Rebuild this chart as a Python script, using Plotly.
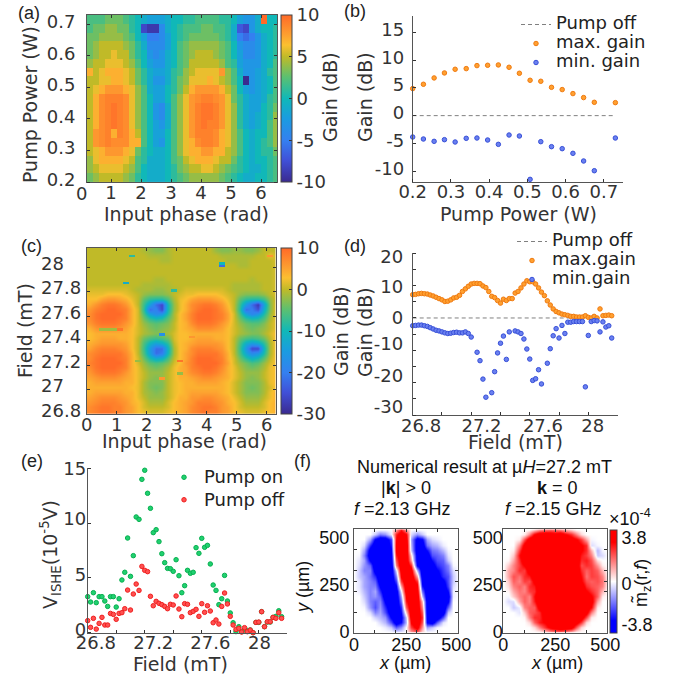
import numpy as np
import plotly.graph_objects as go

W, H = 683, 684
TXT = "#333333"
SANS = "DejaVu Sans"
ARIAL = "Liberation Sans"
FS = 18
FL = 19

# ---------- panel (a): gain vs input phase / pump power (top row = highest power)
a_phase_start, a_phase_step = 0.3, 0.2
a_power_start, a_power_step = 0.214, 0.0279
a_gain = [
 [2,2,2,3,3,3,2,1,0,-1,-2,-2,-2,-1,0,0,1,1,2,2,2,2,1,1,0,-2,-3,-3,-1,10,0,0],
 [2,3,3,4,4,3,3,1,0,-8,-9,-9,-4,-1,0,1,2,2,2,3,3,2,2,1,-1,-7,-8,-3,-1,0,0,1],
 [3,3,4,4,4,4,3,2,0,-2,-5,-5,-4,-2,0,1,2,3,3,3,3,3,2,1,-1,-5,-6,-5,-3,-1,0,1],
 [3,4,5,5,5,5,4,3,1,-1,-4,-4,-4,-2,0,2,3,4,4,4,4,4,3,2,0,-3,-4,-4,-3,-1,0,1],
 [3,4,5,5,6,5,5,3,1,0,-3,-4,-3,-1,0,2,3,4,5,5,5,4,3,2,0,-2,-4,-4,-3,-1,0,1],
 [4,5,5,6,6,6,5,4,2,0,-2,-3,-3,-1,0,2,3,5,5,5,5,5,4,2,1,-2,-3,-3,-3,-1,0,2],
 [7,5,6,7,7,7,6,5,3,1,-1,-2,-2,-1,1,2,4,5,6,6,6,6,8,4,2,-1,-3,-3,-2,-1,1,2],
 [5,5,6,6,7,7,6,5,3,1,-1,-3,-3,-1,1,3,4,6,6,6,7,6,5,4,2,0,-10,-3,-2,-1,0,2],
 [5,6,7,8,8,8,7,6,4,2,-1,-2,-2,0,1,3,5,7,8,8,8,8,7,5,3,0,-2,-3,-2,-1,0,2],
 [5,7,8.5,9,9,9,8.5,6,4,2,0,-2,-2,0,2,4,6,8,8.5,9,9,8.5,8,6,3,1,-1,-2,-2,-1,1,2],
 [5,7,8.5,9,9.5,9,8.5,6,4,2,0,-3,-4,-1,2,4,6,8,9,9.5,9.5,9,8,6,4,1,-1,-2,-2,0,1,3],
 [5,7,8.5,9,9.5,9,8.5,6,4,2,0,-3,-4,-1,2,4,6,8,9,9.5,9.5,9,8,6,4,1,-1,-2,-1,0,1,4],
 [5,7,8.5,9,9.5,9,8.5,6,4,2,0,-2,-3,-1,2,4,6,8,9,9.5,9,9,8,6,4,1,-1,-2,-1,0,2,4],
 [5,8,8.5,9,7,9,8.5,7,5,2,0,-2,-2,0,2,4,6,8,9,9,9,8.5,7,6,4,2,0,-1,0,0,2,4],
 [5,8,8.5,9,8.5,8.5,8.5,7,7,2,0,-2,-3,0,2,4,6,7,8.5,9,9,8.5,7,6,4,2,0,-1,0,1,2,4],
 [5,6,7,8,8,8,7,6,3,1,0,-1,-1,0,2,4,6,7,7,8,8,7,7,5,4,2,0,-1,0,1,1,3],
 [4,6,7,7,7,7,6,5,2,1,-1,-1,-1,0,2,3,5,6,7,7,7,6,5,5,3,1,0,-1,0,0,1,2],
 [4,5,6,6,6,6,5,4,2,0,-1,-1,-1,0,1,3,4,5,5,6,6,5,4,3,2,1,0,-1,-1,0,1,2],
 [3,4,5,5,5,5,4,3,1,0,-1,-1,-1,0,1,2,3,4,4,4,4,4,3,2,1,0,-1,-1,0,0,1,2],
]

# ---------- panel (b)
b_power = [0.2,0.228,0.256,0.283,0.311,0.34,0.368,0.396,0.424,0.452,0.479,0.507,0.535,0.563,0.591,0.619,0.647,0.675,0.73]
b_max = [4.87,5.65,6.79,7.69,8.35,8.47,9.01,9.07,9.13,8.71,7.63,6.37,6.19,5.1,4.69,3.97,3.25,2.4,2.34]
b_min = [-3.85,-4.21,-4.63,-4.33,-4.75,-4.09,-4.03,-4.39,-5.17,-3.49,-3.67,-11.48,-4.69,-5.59,-5.95,-6.79,-8.17,-9.92,-4.03]
b_off_x = [0.2,0.73]
off_y = [0,0]

# ---------- panel (c): gain vs input phase / field (top row = highest field)
c_gain = [
 [0,0,0,0,0,0,0,0,0,-1,-2,-3,-3,-1,0,0,0,0,0,0,0,-2,-3,-3,-2,-2,-3,-3,-2,0,0,0],
 [0,0,0,0,0,0,0,0,0,0,-1,-1,-1,-1,0,0,0,0,0,0,0,0,-1,-1,-1,-1,-1,-1,0,0,2,1],
 [0,0,0,0,0,0,0,0,0,0,0,0,-1,-1,0,0,0,0,0,0,0,0,0,-1,-1,-1,-1,0,0,0,0,1],
 [0,0,0,0,0,0,0,0,0,0,0,0,0,0,0,0,0,0,0,0,0,0,0,0,0,-1,-1,0,0,0,0,1],
 [0,0,0,0,0,0,0,0,0,0,0,0,0,0,0,0,0,0,0,0,0,0,0,0,0,0,0,0,0,0,0,1],
 [0,0,0,0,0,0,0,0,0,0,0,0,0,0,0,0,0,0,0,0,0,0,0,0,0,0,0,0,0,0,0,1],
 [0,0,0,0,0,0,0,0,0,0,0,-1,-1,0,0,0,0,0,0,0,0,0,0,0,0,0,0,-1,0,0,0,1],
 [0,0,0,0,0,0,0,0,0,-1,-1,-1,-1,-1,0,0,0,0,0,0,0,0,0,0,-1,-1,-1,-1,-1,0,0,1],
 [1,1,1,1,1,1,1,0,-1,-1,-1,-2,-2,-1,-1,0,1,1,1,1,1,1,1,0,-1,-1,-1,-1,-1,0,0,1],
 [2,2,2,3,3,3,2,1,0,-2,-3,-3,-3,-2,0,1,2,2,3,3,3,3,2,1,0,-2,-3,-3,-3,-2,0,1],
 [3,3,5,6,6,5,4,2,0,-5,-8,-9,-9,-6,-1,2,3,5,6,6,6,5,4,2,0,-5,-8,-9,-9,-7,-2,1],
 [4,6,8,9,9,8,6,3,0,-7,-14,-22,-26,-10,-2,2,4,7,8,9,9,8,6,3,0,-7,-15,-22,-28,-14,-3,2],
 [6,8,9,10,10,9,8,4,1,-8,-22,-19,-26,-10,-2,2,4,7,9,10,10,9,7,4,0,-8,-22,-20,-25,-12,-3,2],
 [7,9,10,10,10,10,8,4,1,-6,-14,-18,-16,-8,-1,3,5,8,10,10,10,9,8,5,1,-6,-14,-19,-16,-9,-2,2],
 [7,9,10,10,10,9,8,4,1,-4,-8,-10,-9,-5,-1,3,5,8,10,10,10,9,8,5,1,-4,-8,-10,-9,-6,-1,2],
 [6,8,9,9,9,8,6,4,1,-2,-4,-5,-4,-3,0,3,4,7,9,9,9,8,6,4,1,-2,-4,-5,-5,-3,0,2],
 [4,6,7,7,7,6,5,3,1,-1,-3,-4,-3,-2,0,3,4,5,7,7,7,6,5,3,1,-1,-3,-4,-3,-2,0,2],
 [3,4,4,4,4,4,4,3,1,-1,-2,-3,-2,-1,1,3,3,4,4,4,4,4,4,3,1,-1,-2,-3,-3,-1,1,3],
 [3,4,5,5,5,4,4,3,0,-4,-6,-7,-6,-4,1,3,3,4,5,5,5,4,4,3,0,-4,-6,-7,-6,-4,0,3],
 [4,5,6,6,6,6,5,3,0,-6,-11,-14,-12,-8,0,3,4,5,6,6,6,6,5,3,0,-6,-12,-15,-13,-8,-1,3],
 [5,7,8,8,8,7,6,3,0,-7,-15,-22,-22,-11,-1,3,4,7,8,8,8,7,6,3,0,-7,-16,-26,-26,-11,-1,3],
 [7,8,9,9,9,9,7,4,0,-6,-14,-22,-20,-10,-1,3,5,7,9,9,9,9,7,4,0,-6,-13,-18,-16,-9,-1,3],
 [7,9,10,10,10,9,8,4,1,-4,-9,-12,-11,-6,0,3,5,8,10,10,10,9,8,4,1,-4,-8,-11,-9,-5,0,3],
 [8,9,10,10,10,10,8,4,1,-2,-5,-6,-5,-3,1,3,6,8,10,10,10,10,8,5,1,-2,-4,-6,-5,-2,1,3],
 [7,9,10,10,10,9,8,4,2,-1,-3,-4,-3,-1,2,4,5,8,9,10,10,9,7,4,2,-1,-3,-4,-3,-1,2,3],
 [6,8,9,9,9,8,6,4,2,0,-2,-2,-2,0,2,4,5,7,8,9,9,8,6,4,2,0,-2,-2,-2,0,2,3],
 [5,6,7,7,7,6,5,4,2,0,-2,-3,-2,0,2,4,4,5,6,7,7,6,5,4,2,0,-2,-3,-2,0,2,3],
 [4,5,5,5,5,5,4,4,2,-1,-3,-3,-3,0,2,3,4,4,5,5,5,5,4,3,1,-1,-3,-3,-3,-1,2,3],
 [4,4,4,4,4,4,4,3,2,-1,-3,-4,-3,0,2,3,4,4,4,4,4,4,4,3,1,-1,-3,-4,-3,-1,1,3],
 [4,5,5,5,5,5,4,4,2,-1,-2,-3,-2,0,2,3,4,5,5,5,5,5,4,3,1,-1,-3,-3,-3,-1,2,4],
 [5,6,7,7,7,6,5,4,2,0,-2,-2,-2,0,2,4,4,6,6,7,7,6,5,4,2,0,-2,-2,-2,0,2,4],
 [6,7,8,8,8,7,6,4,3,1,-1,-1,-1,1,3,4,5,6,8,8,8,7,6,4,3,1,-1,-1,-1,1,3,4],
 [7,8,9,9,8,8,6,5,3,1,0,0,0,1,3,4,5,7,8,9,9,8,6,5,3,1,0,0,0,1,3,4],
 [7,8,9,9,8,8,6,5,3,2,1,1,1,2,3,4,5,7,8,9,8,8,6,5,3,2,1,1,1,2,3,4],
]
# isolated single-sweep outliers: phase (rad), field (mT), gain (dB)
c_out_phase = [1.45,1.3,2.85,4.45,4.45,0.5,0.7,0.9,1.1,2.5,3.4,1.7,3.0,3.0,2.5,6.0]
c_out_field = [28.09,27.85,27.81,28.02,28.0,27.49,27.49,27.49,27.49,27.45,27.43,27.23,27.23,27.13,27.09,28.09]
c_out_gain  = [-8,-12,-8,-10,-22,-1.5,-1.5,-1.5,9,-17,6,-2,9,-2,6,6]

# ---------- panel (d)
field = [26.80,26.82,26.84,26.86,26.88,26.90,26.92,26.94,26.96,26.98,27.00,27.02,27.04,27.06,27.08,27.10,27.12,
         27.14,27.16,27.18,27.20,27.22,27.24,27.26,27.28,27.30,27.32,27.34,27.36,27.38,27.40,27.42,27.44,27.46,
         27.48,27.50,27.52,27.54,27.56,27.58,27.60,27.62,27.64,27.66,27.68,27.70,27.72,27.74,27.76,27.78,27.80,
         27.82,27.84,27.86,27.88,27.90,27.92,27.94,27.96,27.98,28.00,28.02,28.04,28.06,28.08,28.10,28.12,28.14,28.16]
d_max = [7.2,7.3,7.5,7.6,7.5,7.4,7.1,6.8,6.4,6.0,5.6,5.1,5.2,5.6,6.2,6.4,7.0,8.2,9.0,9.8,10.5,10.7,10.7,10.6,9.9,9.4,
         8.2,6.7,6.3,5.4,4.6,5.8,5.4,6.0,6.0,7.7,8.2,9.3,10.5,11.5,11.2,11.2,10.5,9.3,8.0,6.9,5.3,4.0,2.8,2.0,1.6,1.2,
         1.0,0.8,0.5,0.5,0.3,0.3,0.3,0.7,0.2,0,0.5,0,2.8,0.7,0.8,0.9,0.7]
d_min = [-2.4,-2.3,-2.2,-2.2,-2.4,-2.6,-3.0,-3.4,-3.8,-4.0,-4.3,-4.6,-4.8,-4.7,-4.5,-4.4,-4.6,-4.6,-4.3,-4.8,-5.9,None,
         -10.6,-13.2,-18.9,-24.5,None,-23.1,-16.6,-10.8,-7.8,-5.6,-12.8,-4.3,None,-4.0,-4.3,-4.8,-6.5,-9.6,-12.7,-19.3,
         -18.8,-16.0,-20.4,None,-14.0,-9.5,-5.5,-3.3,-6.2,-2.3,-4.8,-1.3,-1.3,-1.1,-1.1,-1.1,-1.1,-21.3,-5.4,-1.1,-0.8,
         -0.9,-4.3,-1.2,-2.8,-2.4,-6.2]
d_off_x = [26.8,28.08]

# ---------- panel (e)
e_on = [3.29,2.8,3.65,2.74,3.29,3.29,2.89,2.4,3.29,3.29,2.34,3.1,4.81,5.51,8.64,5.14,7.03,10.56,10.34,13.99,14.82,12.72,
        11.35,9.13,9.4,8.31,7.21,6.39,5.87,5.84,5.6,6.66,5.2,3.65,4.29,5.69,5.42,5.51,7.76,7.24,8.61,7.79,7.97,6.27,4.35,
        3.86,2.56,3.1,5.23,2.89,1.8,0.91,0.1,0.55,0.1,0.25,0.2,0.25,0,0.94,0.94,1.92,0.55,0.97,0.97,1.4,1.49,2.0,1.46]
e_off = [1.1,0.49,1.31,0.33,0.85,1.4,0.7,0.7,1.76,1.67,1.22,1.76,1.83,2.19,3.89,2.07,3.53,4.44,3.86,6.05,5.69,5.57,3.32,
         2.46,2.86,2.68,2.56,2.4,2.19,2.59,2.53,3.35,2.16,1.46,2.65,2.59,1.83,1.95,2.13,1.49,2.65,1.86,2.46,1.98,0.91,1.16,
         0.79,2.4,3.62,2.62,1.49,0.7,0.3,0.4,0.06,0.46,0.09,0.24,0,0.94,0.97,1.92,0.55,1.0,1.0,1.4,1.31,1.83,1.31]

# ---------- panel (f): m_z in units of 1e-5 (top row = y 500)
f_pos = [0,25,50,75,100,125,150,175,200,225,250,275,300,325,350,375,400,425,450,475,500]
f_left = [
 [0,0,0,0,0,0,0,0,10,25,10,0,0,0,0,0,0,0,0,0,0],
 [0,0,0,0,-6,-15,-12,-2,25,38,30,-4,-12,-6,0,0,0,0,0,0,0],
 [0,0,0,-10,-30,-38,-38,-22,28,38,36,-10,-34,-30,-10,-4,-2,0,0,0,0],
 [0,0,-4,-24,-38,-38,-38,-26,30,38,38,-8,-36,-36,-16,-10,-8,-2,0,0,0],
 [0,0,-10,-34,-38,-38,-38,-30,30,38,38,-6,-36,-38,-28,-16,-14,-8,-1,0,0],
 [0,-1,-14,-36,-38,-38,-38,-34,26,38,38,4,-34,-38,-36,-20,-18,-14,-3,0,0],
 [0,-3,-10,-30,-38,-38,-38,-36,20,38,38,10,-34,-38,-38,-28,-20,-18,-6,0,0],
 [0,-4,-12,-18,-38,-38,-38,-38,14,38,38,24,-30,-38,-38,-34,-24,-20,-14,-1,0],
 [0,-6,-14,-14,-34,-38,-38,-38,-4,36,38,34,-8,-38,-38,-38,-30,-22,-16,-4,0],
 [0,-6,-10,-16,-24,-38,-38,-38,-14,30,38,38,10,-36,-38,-38,-34,-24,-20,-6,0],
 [0,-3,-10,-14,-18,-36,-38,-38,-22,22,38,38,24,-32,-38,-38,-38,-32,-20,-6,0],
 [0,-3,-10,-14,-14,-30,-38,-38,-30,10,38,38,32,-26,-38,-38,-38,-36,-22,-4,0],
 [0,-2,-8,-14,-10,-24,-38,-38,-36,-2,36,38,36,-16,-38,-38,-38,-38,-28,-2,0],
 [0,0,-6,-14,-12,-18,-36,-38,-38,-10,30,38,38,-6,-38,-38,-38,-38,-34,-2,0],
 [0,0,-4,-14,-18,-14,-30,-38,-38,-16,26,38,38,8,-36,-38,-38,-38,-30,0,0],
 [0,0,-1,-12,-20,-12,-24,-38,-38,-24,18,38,38,14,-36,-38,-38,-38,-18,0,0],
 [0,0,0,-4,-14,-10,-20,-36,-38,-28,6,38,38,20,-36,-38,-38,-36,-6,0,0],
 [0,0,0,0,-5,-8,-12,-30,-38,-32,-6,36,38,24,-34,-38,-38,-20,0,0,0],
 [0,0,0,0,0,-4,-8,-20,-36,-28,-8,30,38,20,-30,-36,-18,-3,0,0,0],
 [0,0,0,0,0,0,-2,-6,-18,-12,0,22,34,12,-10,-6,-1,0,0,0,0],
 [0,0,0,0,0,0,0,0,-2,-2,0,10,18,4,0,0,0,0,0,0,0],
]
f_right = [
 [0,0,0,0,0,0,4,10,14,16,14,12,8,4,0,0,0,0,0,0,0],
 [0,0,0,0,2,14,30,38,38,36,34,38,30,24,14,4,0,0,0,0,0],
 [0,0,0,2,20,36,38,38,38,38,38,38,36,34,30,22,10,-1,0,0,0],
 [0,0,0,14,34,38,38,38,38,38,38,38,38,36,34,30,24,-4,-1,0,0],
 [0,0,2,22,38,38,38,38,38,38,38,38,38,38,36,30,24,8,-8,-1,0],
 [0,0,6,28,38,38,38,38,38,38,38,38,38,38,36,26,22,14,-6,-4,0],
 [0,1,10,24,38,38,38,38,38,38,38,38,38,38,36,24,26,20,4,0,0],
 [0,6,14,22,30,38,38,38,38,38,38,38,38,38,38,20,24,22,12,2,0],
 [0,10,14,24,22,36,38,38,38,38,38,38,38,38,38,24,18,22,18,8,0],
 [0,10,20,16,24,26,38,38,38,38,38,38,38,38,38,28,16,22,20,14,1],
 [0,6,18,14,22,20,32,38,38,38,38,38,38,38,38,30,20,18,20,16,2],
 [0,4,14,18,14,24,26,38,38,38,38,38,38,38,38,36,24,20,18,14,1],
 [0,1,10,16,14,22,24,38,38,38,38,38,38,38,38,38,30,24,18,8,0],
 [0,-1,6,14,18,14,28,38,38,38,38,38,38,38,38,38,36,30,18,2,0],
 [0,-4,-4,10,18,14,26,38,38,38,38,38,38,38,38,38,38,34,10,0,0],
 [0,0,-6,-2,14,18,18,34,38,38,38,38,38,38,38,38,38,28,2,0,0],
 [0,0,0,-3,6,18,20,24,38,38,38,38,38,38,38,38,34,14,0,0,0],
 [0,0,0,0,1,14,24,24,34,38,38,38,38,38,38,36,20,2,0,0,0],
 [0,0,0,0,0,4,18,26,30,38,38,38,38,38,34,22,4,0,0,0,0],
 [0,0,0,0,0,0,4,14,24,32,36,38,38,34,18,4,0,0,0,0,0],
 [0,0,0,0,0,0,0,0,4,10,14,16,12,6,0,0,0,0,0,0,0],
]

GAIN_SCALE = [[0,"#3a2a90"],[0.13,"#4050d8"],[0.25,"#3480f0"],[0.38,"#1a9ce0"],[0.5,"#10b8b8"],
              [0.63,"#5cc070"],[0.75,"#c0ba28"],[0.82,"#fbc030"],[0.88,"#fda030"],[1,"#ff6a28"]]
MZ_SCALE = [[0,"#0000ff"],[0.12,"#0000ff"],[0.5,"#ffffff"],[0.88,"#ff0000"],[1,"#ff0000"]]

def dx(l, r): return [l/W, r/W]
def dy(t, b): return [1-b/H, 1-t/H]
def cb(x0, thick, t, b, **kw):
    d = dict(x=x0/W, xanchor="left", xpad=0, ypad=0, thickness=thick, thicknessmode="pixels",
             len=(b-t)/H, lenmode="fraction", y=1-b/H, yanchor="bottom", outlinewidth=1,
             outlinecolor="#444", ticks="inside", ticklen=3, tickcolor="#333",
             tickfont=dict(family=SANS, size=FS, color=TXT), tickmode="array")
    d.update(kw)
    return d

fig = go.Figure()

# (a)
fig.add_trace(go.Heatmap(z=a_gain[::-1], x0=a_phase_start, dx=a_phase_step, y0=a_power_start, dy=a_power_step,
    colorscale=GAIN_SCALE, zmin=-10, zmax=10, xaxis="x", yaxis="y", name="a",
    colorbar=cb(281, 11, 15, 182, tickvals=[-10,-5,0,5,10], ticktext=["-10","-5","0","5","10"])))

# (b)
def big(s): return "<span style='font-size:%dpx'>%s</span>" % (FS, s)
def dots(x, y, col, edge, name, ax, legend, group=None):
    return go.Scatter(x=x, y=y, mode="markers", name=big(name), xaxis="x"+ax, yaxis="y"+ax, legend=legend,
                      marker=dict(size=4.5, color=col, line=dict(color=edge, width=1)), cliponaxis=False)
def offline(x, ax, legend):
    return go.Scatter(x=x, y=off_y, mode="lines", name=big("Pump off"), xaxis="x"+ax, yaxis="y"+ax, legend=legend,
                      line=dict(color="#808080", width=1, dash="4px,3px"))
ORANGE, ORANGE_E = "#ffa030", "#f07a10"
BLUE, BLUE_E = "#6a80f0", "#3850d8"
fig.add_trace(offline(b_off_x, "2", "legend"))
fig.add_trace(dots(b_power, b_max, ORANGE, ORANGE_E, "max. gain", "2", "legend"))
fig.add_trace(dots(b_power, b_min, BLUE, BLUE_E, "min. gain", "2", "legend"))

# (c): smooth sweep plus the isolated outlier cells on top
fig.add_trace(go.Heatmap(z=c_gain[::-1], x0=0.1, dx=0.2, y0=26.82, dy=0.04, zsmooth="best",
    colorscale=GAIN_SCALE, zmin=-30, zmax=10, xaxis="x3", yaxis="y3", name="c",
    colorbar=cb(280.5, 11, 247.7, 414, tickvals=[-30,-20,-10,0,10], ticktext=["-30","-20","-10","0","10"])))
c_spots = np.full((68, 32), np.nan)
for p, f, g in zip(c_out_phase, c_out_field, c_out_gain):
    c_spots[int(round((f-26.8)/0.02)), int(p/0.2)] = g
fig.add_trace(go.Heatmap(z=[[None if np.isnan(v) else float(v) for v in row] for row in c_spots],
    x0=0.1, dx=0.2, y0=26.81, dy=0.02, colorscale=GAIN_SCALE, zmin=-30, zmax=10, showscale=False,
    xaxis="x3", yaxis="y3", name="c outliers"))

# (d)
fig.add_trace(offline(d_off_x, "4", "legend2"))
fig.add_trace(dots(field, d_max, ORANGE, ORANGE_E, "max.gain", "4", "legend2"))
fig.add_trace(dots(field, d_min, BLUE, BLUE_E, "min.gain", "4", "legend2"))

# (e)
fig.add_trace(dots(field, e_on, "#20d070", "#08b050", "Pump on", "5", "legend3"))
fig.add_trace(dots(field, e_off, "#ff5050", "#f02020", "Pump off", "5", "legend3"))

# (f)
fig.add_trace(go.Heatmap(z=(np.array(f_left[::-1])/10).tolist(), x=f_pos, y=f_pos, colorscale=MZ_SCALE, zmin=-3.8, zmax=3.8,
    zsmooth="best", xaxis="x6", yaxis="y6", showscale=False, name="k>0"))
fig.add_trace(go.Heatmap(z=(np.array(f_right[::-1])/10).tolist(), x=f_pos, y=f_pos, colorscale=MZ_SCALE, zmin=-3.8, zmax=3.8,
    zsmooth="best", xaxis="x7", yaxis="y7", name="k=0",
    colorbar=cb(610, 7, 529.3, 632.7, tickvals=[3.2,-0.17,-3.24], ticktext=["3.8","0","-3.8"],
                ticks="", tickfont=dict(family=ARIAL, size=FS, color="#111"))))

def axis(dom, rng, minor=None, vals=None, text=None, frame=False, fam=SANS, col=TXT, standoff=None, anchor=None):
    d = dict(domain=dom, range=rng, showgrid=False, zeroline=False, showline=True, linecolor="#555", linewidth=1,
             tickmode="array", tickvals=vals, ticktext=text, ticks="", tickfont=dict(family=fam, size=FS, color=col),
             anchor=anchor, mirror="ticks" if frame else False, layer="above traces")
    if minor is not None:
        d["minor"] = dict(tickmode="array", tickvals=minor, ticks="inside", ticklen=3, tickcolor="#333", showgrid=False)
    if standoff is not None:
        d["ticklabelstandoff"] = standoff
    return d

lay = dict(width=W, height=H, margin=dict(l=0, r=0, t=0, b=0, autoexpand=False), paper_bgcolor="white", plot_bgcolor="white",
           font=dict(family=SANS, size=FS, color=TXT))
XSO = -6
# (a)
lay["xaxis"] = axis(dx(87,277), [0.2,6.53], minor=[1,2,3,4,5,6], vals=[1,2,3,4,5,6], text=["1","2","3","4","5","6"],
                    frame=True, anchor="y", standoff=XSO)
lay["yaxis"] = axis(dy(15,182), [0.2,0.73], minor=[0.2,0.3,0.4,0.5,0.6,0.7], vals=[0.208,0.308,0.408,0.508,0.608,0.708],
                    text=["0.2","0.3","0.4","0.5","0.6","0.7"], frame=True, anchor="x", standoff=7)
# (b)
lay["xaxis2"] = axis(dx(412.7,623), [0.2,0.75], minor=[0.2,0.3,0.4,0.5,0.6,0.7], vals=[0.2,0.3,0.4,0.5,0.6,0.7],
                     text=["0.2","0.3","0.4","0.5","0.6","0.7"], anchor="y2", standoff=XSO)
lay["yaxis2"] = axis(dy(15.7,181.7), [-11.9,18], minor=[-10,-5,0,5,10,15], vals=[-9.5,-4.5,0.5,5.5,10.5,15.5],
                     text=["-10","-5","0","5","10","15"], anchor="x2", standoff=4)
# (c)
lay["xaxis3"] = axis(dx(86.7,275.7), [0,6.3], minor=[1,2,3,4,5,6], vals=[0,1,2,3,4,5,6], text=["0","1","2","3","4","5","6"],
                     frame=True, anchor="y3", standoff=XSO)
lay["yaxis3"] = axis(dy(247.7,414), [26.8,28.16], minor=[27,27.2,27.4,27.6,27.8,28], vals=[26.83,27.03,27.23,27.43,27.63,27.83,28.03],
                     text=["26.8","27\u00a0\u00a0\u00a0","27.2","27.4","27.6","27.8","28\u00a0\u00a0\u00a0"], frame=True, anchor="x3", standoff=1)
# (d)
lay["xaxis4"] = axis(dx(412.7,618.3), [26.8,28.205], minor=[27,27.2,27.4,27.6,27.8,28], vals=[26.857,27.27,27.69,28.03],
                     text=["26.8","27.2","27.6","28"], anchor="y4", standoff=XSO)
lay["yaxis4"] = axis(dy(253.3,415), [-30,20], minor=[-30,-25,-20,-15,-10,-5,0,5,10,15,20], vals=[-27.5,-17.7,-8,0,9.8,19],
                     text=["-30","-20","-10","0","10","20"], anchor="x4", standoff=5)
# (e)
lay["xaxis5"] = axis(dx(87.7,287.3), [26.8,28.2], minor=[27,27.2,27.4,27.6,27.8,28], vals=[26.857,27.26,27.66,28.005],
                     text=["26.8","27.2","27.6","28"], anchor="y5", standoff=XSO)
lay["yaxis5"] = axis(dy(468.3,632.7), [0,15], minor=[0,5,10,15], vals=[0.25,5.25,10.4,15],
                     text=["0","5","10","15"], anchor="x5", standoff=-3)
# (f)
FT = "#111"
for ax_, l, r, yso in (("6",354,458.3,0),("7",503.3,607.3,-4)):
    lay["xaxis"+ax_] = axis(dx(l,r), [0,500], minor=[100,200,250,300,400], vals=[0,250,490], text=["0","250","500"],
                            frame=True, fam=ARIAL, col=FT, anchor="y"+ax_, standoff=-4)
    lay["yaxis"+ax_] = axis(dy(529.3,632.7), [0,500], minor=[100,200,250,300,400], vals=[5,230,461], text=["0","250","500"],
                            frame=True, fam=ARIAL, col=FT, anchor="x"+ax_, standoff=yso)

def legend(left, top, size=12):
    return dict(x=left/W, y=1-top/H, xanchor="left", yanchor="top", bgcolor="rgba(0,0,0,0)", borderwidth=0,
                font=dict(family=SANS, size=size, color="#222"), tracegroupgap=0, itemwidth=30)
lay["legend"] = legend(516, 10)
lay["legend2"] = legend(512, 227)
lay["legend3"] = legend(164, 461, 15)
lay["showlegend"] = True

def note(x, y, text, fam=ARIAL, size=FS, color="#222", anchor="center", angle=None):
    d = dict(x=x/W, y=1-y/H, xref="paper", yref="paper", text=text, showarrow=False, xanchor=anchor, yanchor="middle",
             font=dict(family=fam, size=size, color=color))
    if angle is not None:
        d["textangle"] = angle
    return d
def lab(x, y, text, angle=None, fam=SANS, color=TXT):
    return note(x, y, text, fam=fam, size=FL if fam == SANS else FS, color=color, angle=angle)
lay["annotations"] = [
    note(16,13,"(a)",anchor="left"), note(342,11,"(b)",anchor="left"),
    note(19,246,"(c)",anchor="left"), note(342,246,"(d)",anchor="left"),
    note(19,461,"(e)",anchor="left"), note(292,461,"(f)",anchor="left"),
    note(81,193,"0",fam=SANS,color=TXT),
    note(484,467,"Numerical result at \u00b5<i>H</i>=27.2 mT",color=FT),
    note(406,488,"|<b>k</b>| > 0",color=FT), note(402,509,"<i>f</i> =2.13 GHz",color=FT),
    note(557,488,"<b>k</b> = 0",color=FT), note(553,509,"<i>f</i> =2.15 GHz",color=FT),
    note(630,517,"\u00d710<sup>-4</sup>",color=FT),
    lab(186,214,"Input phase (rad)"), lab(30,105,"Pump Power (W)",-90), lab(330,97,"Gain (dB)",-90),
    lab(518,214,"Pump Power (W)"), lab(365,97,"Gain (dB)",-90),
    lab(184,441,"Input phase (rad)"), lab(25,331,"Field (mT)",-90), lab(341,331,"Gain (dB)",-90),
    lab(515,442,"Field (mT)"), lab(365,332,"Gain (dB)",-90),
    lab(180,664,"Field (mT)"), lab(50,555,"V<sub>ISHE</sub>(10<sup>-5</sup>V)",-90),
    lab(405,663,"<i>x</i> (\u00b5m)",fam=ARIAL,color=FT), lab(557,663,"<i>x</i> (\u00b5m)",fam=ARIAL,color=FT),
    lab(303,588,"<i>y</i> (\u00b5m)",-90,fam=ARIAL,color=FT),
    lab(642,583,"m\u0303<sub>z</sub>(r,<i>f</i>)",-90,fam=ARIAL,color=FT),
]
fig.update_layout(**lay)
fig.write_html("out.html", config={"displayModeBar": False},
               post_script="document.body.style.margin='0';document.body.style.overflow='hidden';")
